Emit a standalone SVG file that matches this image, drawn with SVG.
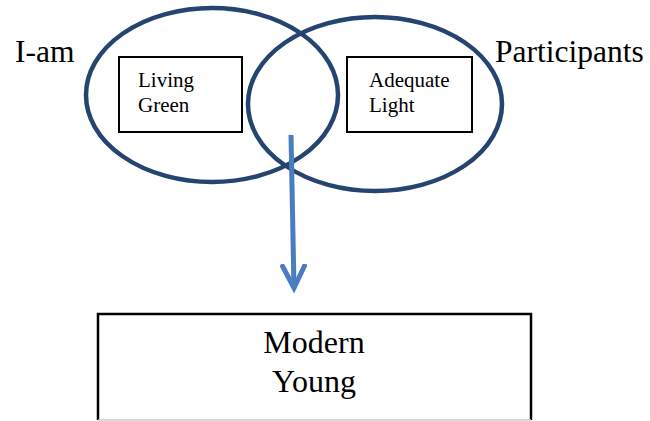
<svg xmlns="http://www.w3.org/2000/svg" width="650" height="421" viewBox="0 0 650 421">
<style>
.ell{fill:none;stroke:#264470;stroke-width:4.5}
.box{fill:#fff;stroke:#000;stroke-width:2}
.t{font-family:"Liberation Serif","Times New Roman",serif;fill:#000}
.big{font-size:31.5px}
.mid{font-size:32px}
.small{font-size:21px}
.conn{fill:none;stroke:#4a7dbd;stroke-width:5;stroke-linecap:butt}
</style>
<defs>
<marker id="arr" markerUnits="userSpaceOnUse" viewBox="0 0 30 30" refX="24" refY="15" markerWidth="30" markerHeight="30" orient="auto">
<path d="M2,4 L24,15 L2,26" fill="none" stroke="#4a7dbd" stroke-width="5" stroke-linecap="round" stroke-linejoin="miter"/>
</marker>
</defs>
<rect width="650" height="421" fill="#fff"/>
<g id="venn-iam">
<ellipse class="ell" cx="212" cy="95" rx="126" ry="87"/>
<text class="t big" x="15" y="62">I-am</text>
</g>
<g id="venn-participants">
<ellipse class="ell" cx="375" cy="104" rx="127" ry="87"/>
<text class="t big" x="495" y="62">Participants</text>
</g>
<g id="living-green">
<rect class="box" x="119" y="57" width="123" height="75"/>
<text class="t small" x="138" y="87">Living</text>
<text class="t small" x="138" y="112">Green</text>
</g>
<g id="adequate-light">
<rect class="box" x="347" y="57" width="125" height="75"/>
<text class="t small" x="369" y="87">Adequate</text>
<text class="t small" x="369" y="112">Light</text>
</g>
<g id="modern-young">
<rect x="98" y="314" width="433" height="106" fill="#fff"/>
<path d="M98,420 V314 H531 V420" fill="none" stroke="#000" stroke-width="2.5"/>
<line x1="98" y1="420" x2="531" y2="420" stroke="#ccc" stroke-width="1.5"/>
<text class="t mid" x="314" y="353" text-anchor="middle">Modern</text>
<text class="t mid" x="314" y="392" text-anchor="middle">Young</text>
</g>
<g id="connectors">
<line class="conn" x1="291" y1="135" x2="294" y2="288" marker-end="url(#arr)"/>
</g>
</svg>
